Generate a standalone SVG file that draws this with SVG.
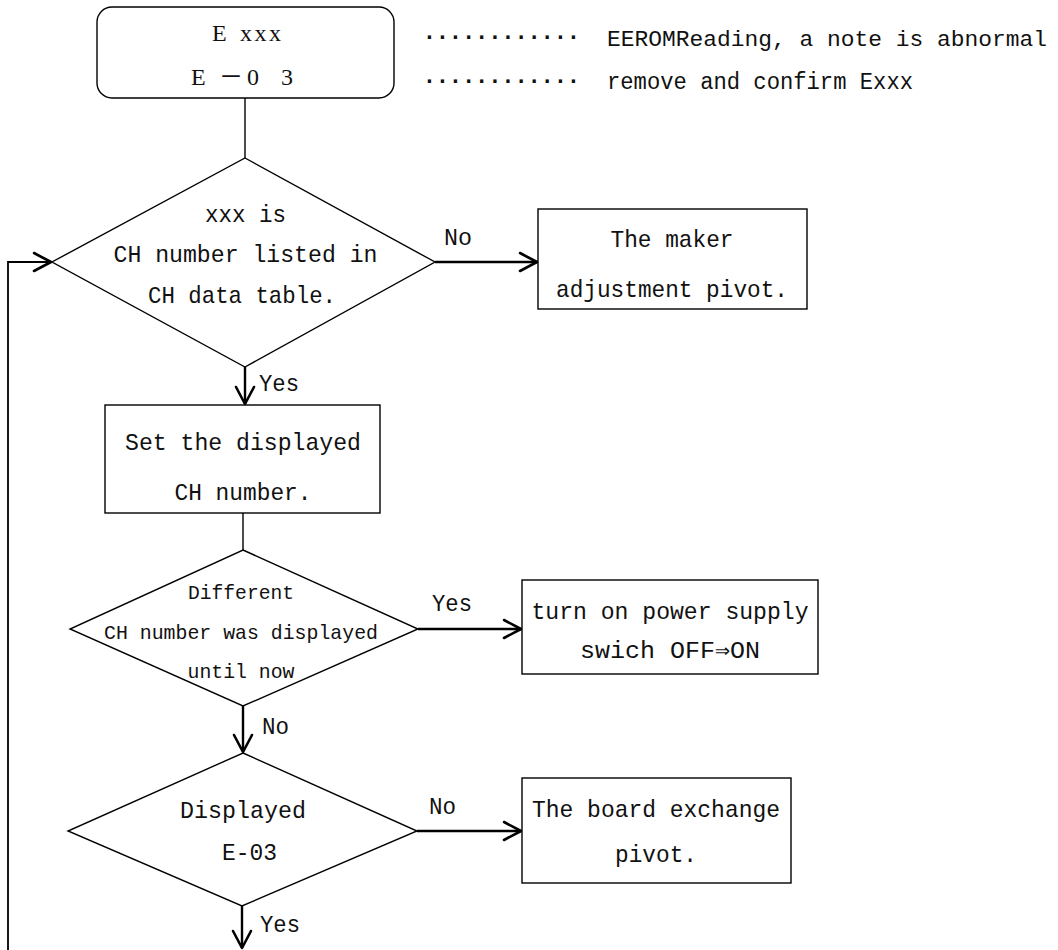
<svg xmlns="http://www.w3.org/2000/svg" width="1058" height="950" viewBox="0 0 1058 950">
  <style>
    .shape { fill: #ffffff; stroke: #000000; stroke-width: 1.4; }
    .thin { fill: none; stroke: #000000; stroke-width: 1.4; }
    .flow { fill: none; stroke: #000000; stroke-width: 2.4; marker-end: url(#open-arrow); }
    .txt { font-family: "Liberation Mono", "DejaVu Sans Mono", monospace; font-size: 24px; fill: #111111; }
    .mid { text-anchor: middle; }
    .small { font-size: 21px; }
    .dots { font-family: "Liberation Mono", monospace; font-size: 23px; font-weight: bold; fill: #111111; }
    .head { font-family: "Liberation Serif", "Noto Sans CJK JP", serif; font-size: 24px; fill: #111111; }
  </style>
  <defs>
    <marker id="open-arrow" markerUnits="userSpaceOnUse" markerWidth="24" markerHeight="24" refX="17" refY="9" orient="auto" overflow="visible">
      <path d="M0,0 L17,9 L0,18" fill="none" stroke="#000000" stroke-width="2.6" stroke-linejoin="round" stroke-linecap="round"/>
    </marker>
  </defs>

  <!-- connectors -->
  <g id="connectors">
    <line class="thin" x1="245" y1="98" x2="245" y2="158"/>
    <line class="flow" x1="435" y1="262" x2="537" y2="262"/>
    <line class="flow" x1="245" y1="367" x2="245" y2="404"/>
    <line class="thin" x1="243" y1="513" x2="243" y2="550"/>
    <line class="flow" x1="418" y1="629" x2="521" y2="629"/>
    <line class="flow" x1="243" y1="706" x2="243" y2="752"/>
    <line class="flow" x1="417" y1="831" x2="521" y2="831"/>
    <line class="flow" x1="242" y1="906" x2="242" y2="948"/>
    <polyline class="flow" style="stroke-width:1.8" points="8,950 8,262 51,262"/>
  </g>

  <!-- error display -->
  <g id="error-display">
    <rect class="shape" x="97" y="7" width="297" height="91" rx="15" ry="15"/>
    <text class="head"><tspan x="212" y="41">E </tspan><tspan x="240 254.5 269" y="41">xxx</tspan></text>
    <text class="head" x="191 219 247 281" y="85">E－03</text>
  </g>

  <!-- notes beside the display -->
  <g id="notes">
    <text class="dots" x="422.4" y="44" textLength="158" lengthAdjust="spacing">············</text>
    <text class="txt" x="607" y="46" style="font-size:22.5px" textLength="440" lengthAdjust="spacingAndGlyphs">EEROMReading, a note is abnormal</text>
    <text class="dots" x="422.4" y="88" textLength="158" lengthAdjust="spacing">············</text>
    <text class="txt" x="607" y="89" style="font-size:23px" textLength="306" lengthAdjust="spacingAndGlyphs">remove and confirm Exxx</text>
  </g>

  <!-- decision: listed in CH data table -->
  <g id="check-listed">
    <polygon class="shape" points="245,158 435,262 245,367 52,262"/>
    <text class="txt mid" x="245.5" y="222" textLength="81" lengthAdjust="spacingAndGlyphs">xxx is</text>
    <text class="txt mid" x="245.5" y="262" textLength="264" lengthAdjust="spacingAndGlyphs">CH number listed in</text>
    <text class="txt mid" x="242" y="302.5" textLength="188" lengthAdjust="spacingAndGlyphs">CH data table.</text>
  </g>

  <!-- maker adjustment -->
  <g id="maker-adjustment">
    <rect class="shape" x="538" y="209" width="269" height="100"/>
    <text class="txt mid" x="672" y="247" textLength="123" lengthAdjust="spacingAndGlyphs">The maker</text>
    <text class="txt mid" x="672" y="297" textLength="232" lengthAdjust="spacingAndGlyphs">adjustment pivot.</text>
  </g>

  <!-- set displayed CH number -->
  <g id="set-ch-number">
    <rect class="shape" x="105" y="405" width="275" height="108"/>
    <text class="txt mid" x="243" y="450" textLength="236" lengthAdjust="spacingAndGlyphs">Set the displayed</text>
    <text class="txt mid" x="243" y="500" textLength="137" lengthAdjust="spacingAndGlyphs">CH number.</text>
  </g>

  <!-- decision: different CH number displayed -->
  <g id="check-different">
    <polygon class="shape" points="243,550 418,629 243,706 70,629"/>
    <text class="txt mid small" x="241" y="599" textLength="106" lengthAdjust="spacingAndGlyphs">Different</text>
    <text class="txt mid small" x="241" y="639" textLength="274" lengthAdjust="spacingAndGlyphs">CH number was displayed</text>
    <text class="txt mid small" x="241" y="678" textLength="107" lengthAdjust="spacingAndGlyphs">until now</text>
  </g>

  <!-- power cycle -->
  <g id="power-cycle">
    <rect class="shape" x="522" y="580" width="296" height="94"/>
    <text class="txt mid" x="670" y="619" textLength="277" lengthAdjust="spacingAndGlyphs">turn on power supply</text>
    <text class="txt mid" x="670" y="658" textLength="180" lengthAdjust="spacingAndGlyphs">swich OFF⇒ON</text>
  </g>

  <!-- decision: E-03 displayed -->
  <g id="check-e03">
    <polygon class="shape" points="243,753 417,831 242,906 68,831"/>
    <text class="txt mid" x="243" y="818" textLength="126" lengthAdjust="spacingAndGlyphs">Displayed</text>
    <text class="txt mid" x="249.5" y="860" textLength="55" lengthAdjust="spacingAndGlyphs">E-03</text>
  </g>

  <!-- board exchange -->
  <g id="board-exchange">
    <rect class="shape" x="522" y="778" width="269" height="105"/>
    <text class="txt mid" x="656" y="817" textLength="248" lengthAdjust="spacingAndGlyphs">The board exchange</text>
    <text class="txt mid" x="656" y="862" textLength="82" lengthAdjust="spacingAndGlyphs">pivot.</text>
  </g>

  <!-- branch labels on the connectors -->
  <g id="connector-labels">
    <text class="txt" x="444" y="245" textLength="28" lengthAdjust="spacingAndGlyphs">No</text>
    <text class="txt" x="259" y="391" textLength="40" lengthAdjust="spacingAndGlyphs">Yes</text>
    <text class="txt" x="432" y="611" textLength="40" lengthAdjust="spacingAndGlyphs">Yes</text>
    <text class="txt" x="262" y="734" textLength="27" lengthAdjust="spacingAndGlyphs">No</text>
    <text class="txt" x="429" y="814" textLength="27" lengthAdjust="spacingAndGlyphs">No</text>
    <text class="txt" x="260" y="932" textLength="40" lengthAdjust="spacingAndGlyphs">Yes</text>
  </g>
</svg>
